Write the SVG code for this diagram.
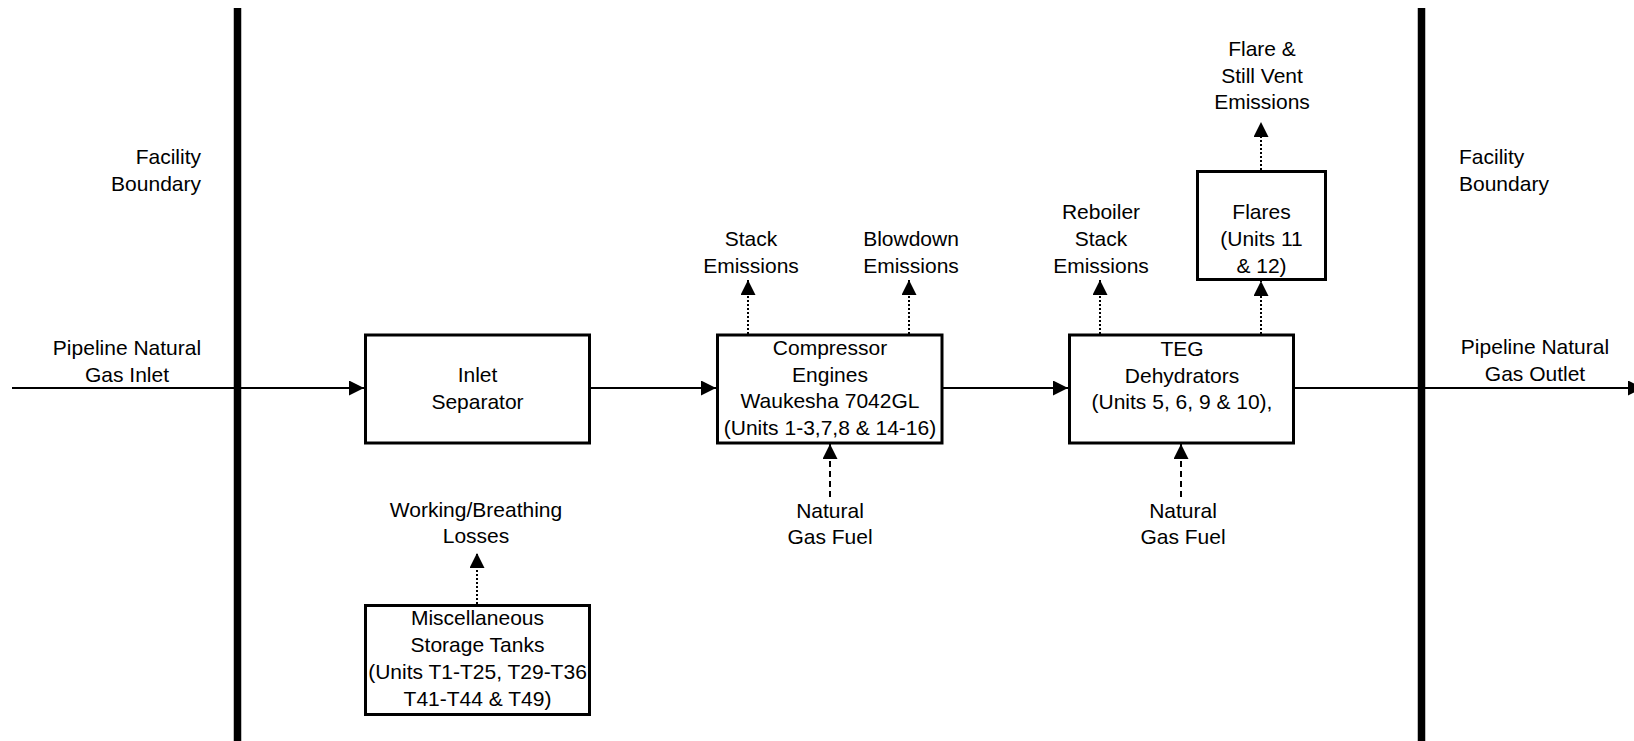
<svg xmlns="http://www.w3.org/2000/svg" width="1634" height="741" viewBox="0 0 1634 741">
  <style>
    text { font-family: "Liberation Sans", Arial, sans-serif; font-size: 21px; fill: #000; }
    .c { text-anchor: middle; }
    .box { fill: #fff; stroke: #000; stroke-width: 3; }
    .flow { stroke: #000; stroke-width: 2; fill: none; }
    .dot { stroke: #000; stroke-width: 2; fill: none; stroke-dasharray: 2 2; }
    .dash { stroke: #000; stroke-width: 2; fill: none; stroke-dasharray: 6 4; }
    .bar { stroke: #000; stroke-width: 7.5; }
  </style>
  <defs>
    <marker id="ah" markerUnits="userSpaceOnUse" markerWidth="16" markerHeight="16" refX="15" refY="7.5" orient="auto">
      <path d="M0,0 L15,7.5 L0,15 Z" fill="#000"/>
    </marker>
  </defs>

  <g id="boundary-left">
    <line class="bar" x1="237.5" y1="8" x2="237.5" y2="741"/>
    <text x="201" y="164" text-anchor="end">Facility</text>
    <text x="201" y="191" text-anchor="end">Boundary</text>
  </g>
  <g id="boundary-right">
    <line class="bar" x1="1421.5" y1="8" x2="1421.5" y2="741"/>
    <text x="1459" y="164">Facility</text>
    <text x="1459" y="191">Boundary</text>
  </g>

  <g id="connectors">
    <line class="flow" x1="12" y1="388" x2="364" y2="388" marker-end="url(#ah)"/>
    <line class="flow" x1="590" y1="388" x2="716" y2="388" marker-end="url(#ah)"/>
    <line class="flow" x1="942" y1="388" x2="1068" y2="388" marker-end="url(#ah)"/>
    <line class="flow" x1="1294" y1="388" x2="1643" y2="388" marker-end="url(#ah)"/>
    <line class="dot" x1="748" y1="334" x2="748" y2="280" marker-end="url(#ah)"/>
    <line class="dot" x1="909" y1="334" x2="909" y2="280" marker-end="url(#ah)"/>
    <line class="dot" x1="1100" y1="334" x2="1100" y2="280" marker-end="url(#ah)"/>
    <line class="dot" x1="1261" y1="334" x2="1261" y2="281" marker-end="url(#ah)"/>
    <line class="dot" x1="1261" y1="170" x2="1261" y2="122" marker-end="url(#ah)"/>
    <line class="dot" x1="477" y1="604" x2="477" y2="553" marker-end="url(#ah)"/>
    <line class="dash" x1="830" y1="497" x2="830" y2="444" marker-end="url(#ah)"/>
    <line class="dash" x1="1181" y1="497" x2="1181" y2="444" marker-end="url(#ah)"/>
  </g>

  <g id="inlet-label">
    <text class="c" x="127" y="355">Pipeline Natural</text>
    <text class="c" x="127" y="382">Gas Inlet</text>
  </g>
  <g id="outlet-label">
    <text class="c" x="1535" y="354">Pipeline Natural</text>
    <text class="c" x="1535" y="381">Gas Outlet</text>
  </g>

  <g id="inlet-separator">
    <rect class="box" x="365.5" y="335" width="224" height="108"/>
    <text class="c" x="477.5" y="382">Inlet</text>
    <text class="c" x="477.5" y="409">Separator</text>
  </g>

  <g id="compressor-engines">
    <rect class="box" x="717.5" y="335" width="224.5" height="108"/>
    <text class="c" x="830" y="355">Compressor</text>
    <text class="c" x="830" y="382">Engines</text>
    <text class="c" x="830" y="408">Waukesha 7042GL</text>
    <text class="c" x="830" y="435">(Units 1-3,7,8 &amp; 14-16)</text>
  </g>

  <g id="teg-dehydrators">
    <rect class="box" x="1069.5" y="335" width="224" height="108"/>
    <text class="c" x="1182" y="356">TEG</text>
    <text class="c" x="1182" y="383">Dehydrators</text>
    <text class="c" x="1182" y="409">(Units 5, 6, 9 &amp; 10),</text>
  </g>

  <g id="flares">
    <rect class="box" x="1197.5" y="171.5" width="128" height="108"/>
    <text class="c" x="1261.5" y="219">Flares</text>
    <text class="c" x="1261.5" y="246">(Units 11</text>
    <text class="c" x="1261.5" y="273">&amp; 12)</text>
  </g>

  <g id="storage-tanks">
    <rect class="box" x="365.5" y="605.5" width="224" height="109"/>
    <text class="c" x="477.5" y="625">Miscellaneous</text>
    <text class="c" x="477.5" y="652">Storage Tanks</text>
    <text class="c" x="477.5" y="679">(Units T1-T25, T29-T36</text>
    <text class="c" x="477.5" y="706">T41-T44 &amp; T49)</text>
  </g>

  <g id="stack-emissions">
    <text class="c" x="751" y="246">Stack</text>
    <text class="c" x="751" y="273">Emissions</text>
  </g>
  <g id="blowdown-emissions">
    <text class="c" x="911" y="246">Blowdown</text>
    <text class="c" x="911" y="273">Emissions</text>
  </g>
  <g id="reboiler-emissions">
    <text class="c" x="1101" y="219">Reboiler</text>
    <text class="c" x="1101" y="246">Stack</text>
    <text class="c" x="1101" y="273">Emissions</text>
  </g>
  <g id="flare-emissions">
    <text class="c" x="1262" y="56">Flare &amp;</text>
    <text class="c" x="1262" y="83">Still Vent</text>
    <text class="c" x="1262" y="109">Emissions</text>
  </g>
  <g id="working-losses">
    <text class="c" x="476" y="517">Working/Breathing</text>
    <text class="c" x="476" y="543">Losses</text>
  </g>
  <g id="fuel-compressor">
    <text class="c" x="830" y="518">Natural</text>
    <text class="c" x="830" y="544">Gas Fuel</text>
  </g>
  <g id="fuel-teg">
    <text class="c" x="1183" y="518">Natural</text>
    <text class="c" x="1183" y="544">Gas Fuel</text>
  </g>
</svg>
